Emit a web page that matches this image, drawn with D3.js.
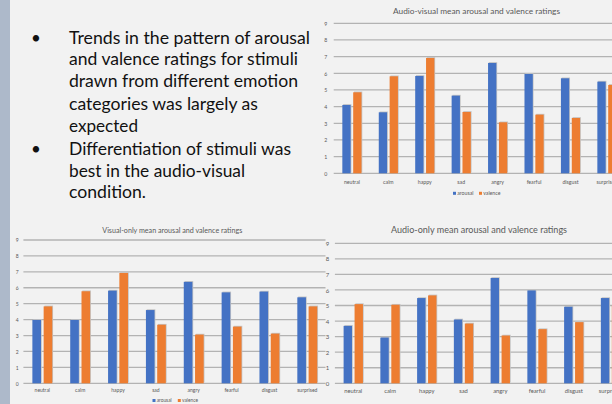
<!DOCTYPE html>
<html>
<head>
<meta charset="utf-8">
<script src="https://cdn.jsdelivr.net/npm/d3@7/dist/d3.min.js"></script>
<style>
  html, body { margin: 0; padding: 0; background: #f2f2f2; }
  svg { display: block; }
</style>
</head>
<body>
<svg id="slide" width="612" height="404"></svg>
<script>
// Emotion categories and series
const categories = ["neutral", "calm", "happy", "sad", "angry", "fearful", "disgust", "surprised"];
const seriesNames = ["arousal", "valence"];
const yTicks = [0, 1, 2, 3, 4, 5, 6, 7, 8, 9];

// Audio-visual condition
const avArousal = [4.10, 3.66, 5.84, 4.66, 6.62, 5.96, 5.70, 5.50];
const avValence = [4.86, 5.82, 6.92, 3.68, 3.06, 3.52, 3.32, 5.30];
// Visual-only condition
const voArousal = [3.98, 3.98, 5.82, 4.60, 6.37, 5.71, 5.76, 5.40];
const voValence = [4.83, 5.78, 6.93, 3.68, 3.06, 3.56, 3.12, 4.83];
// Audio-only condition
const aoArousal = [3.69, 2.94, 5.48, 4.10, 6.77, 5.97, 4.92, 5.48];
const aoValence = [5.09, 5.05, 5.65, 3.84, 3.07, 3.48, 3.93, 5.00];

const bulletLines = [
  ["Trends in the pattern of arousal", "and valence ratings for stimuli", "drawn from different emotion",
   "categories was largely as", "expected"],
  ["Differentiation of stimuli was", "best in the audio-visual", "condition."]
];

const colors = { arousal: "#4472c4", valence: "#ed7d31" };
const FONT = "Lato, 'Open Sans', sans-serif";

const svg = d3.select("#slide");

// slide background and left accent strip
svg.append("rect").attr("width", 612).attr("height", 404).attr("fill", "#f2f2f2");
svg.append("rect").attr("width", 10).attr("height", 404).attr("fill", "#adb9ca");

// bullet text
const lineBaselines = [43.5, 65, 87, 110, 131.5, 154.5, 176.5, 198];
const lineWidths = [241, 229, 229, 189, 69, 222, 176, 77];
const textG = svg.append("g").attr("font-family", FONT).attr("font-size", 17).attr("fill", "#111");
let li = 0;
bulletLines.forEach(group => {
  group.forEach((line, j) => {
    if (j === 0) {
      textG.append("text").attr("x", 31).attr("y", lineBaselines[li]).text("•");
    }
    textG.append("text")
      .attr("x", 69).attr("y", lineBaselines[li])
      .attr("textLength", lineWidths[li]).attr("lengthAdjust", "spacingAndGlyphs")
      .text(line);
    li++;
  });
});

function drawChart(cfg) {
  const g = svg.append("g").attr("font-family", FONT);
  const x = d3.scaleBand().domain(categories).range([cfg.x0, cfg.x0 + cfg.step * categories.length]);
  const y = d3.scaleLinear().domain([0, 9]).range([cfg.yBottom, cfg.yTop]);
  const S = x.bandwidth();
  const groupW = 0.526 * S;
  const sub = d3.scaleBand().domain(seriesNames).range([(S - groupW) / 2, (S + groupW) / 2]).paddingInner(0.235);

  // title
  g.append("text").attr("x", cfg.titleX).attr("y", cfg.titleY)
    .attr("text-anchor", "middle").attr("font-size", cfg.titleSize).attr("fill", "#595959")
    .attr("textLength", cfg.titleW).attr("lengthAdjust", "spacingAndGlyphs")
    .text(cfg.title);

  // gridlines
  g.append("g").selectAll("line").data(yTicks).join("line")
    .attr("x1", cfg.x0).attr("x2", cfg.gridEnd)
    .attr("y1", d => y(d)).attr("y2", d => y(d))
    .attr("stroke", "#b3b3b3").attr("stroke-width", 1.3);

  // y axis labels
  const yAxis = d3.axisLeft(y).tickValues(yTicks).tickSize(0).tickPadding(0);
  const ya = g.append("g").attr("transform", `translate(${cfg.labelX},0)`).call(yAxis);
  ya.select(".domain").remove();
  ya.selectAll("text").attr("font-family", FONT).attr("font-size", cfg.tickSize).attr("fill", "#595959")
    .attr("text-anchor", "middle").attr("dy", "0.35em");

  // bars
  const rows = categories.map((c, i) => ({ cat: c, arousal: cfg.arousal[i], valence: cfg.valence[i] }));
  const grp = g.append("g").selectAll("g").data(rows).join("g")
    .attr("transform", d => `translate(${x(d.cat)},0)`);
  const cells = d => seriesNames.map(s => ({ s, v: d[s] }));
  grp.selectAll("rect.shadow").data(cells).join("rect").attr("class", "shadow")
    .attr("x", d => sub(d.s) + 0.8).attr("y", d => y(d.v) - 0.8)
    .attr("width", sub.bandwidth()).attr("height", d => y(0) - y(d.v))
    .attr("fill", "#c4c4c4");
  grp.selectAll("rect.bar").data(cells).join("rect").attr("class", "bar")
    .attr("x", d => sub(d.s)).attr("y", d => y(d.v))
    .attr("width", sub.bandwidth()).attr("height", d => y(0) - y(d.v))
    .attr("fill", d => colors[d.s]);

  // category axis
  const xAxis = d3.axisBottom(x).tickSize(0).tickPadding(0);
  const xa = g.append("g").attr("transform", `translate(0,${cfg.catY})`).call(xAxis);
  xa.select(".domain").remove();
  xa.selectAll("text").attr("font-family", FONT).attr("font-size", cfg.catSize).attr("fill", "#595959")
    .attr("dy", "0.35em");

  // legend
  const lg = g.append("g").attr("font-size", cfg.legendSize).attr("fill", "#595959");
  seriesNames.forEach((s, i) => {
    const lx = cfg.legendX[i];
    lg.append("rect").attr("x", lx).attr("y", cfg.legendY - cfg.legendSq / 2)
      .attr("width", cfg.legendSq).attr("height", cfg.legendSq).attr("fill", colors[s]);
    lg.append("text").attr("x", lx + cfg.legendSq + 1.2).attr("y", cfg.legendY).attr("dy", "0.35em").text(s);
  });
}

drawChart({
  title: "Audio-visual mean arousal and valence ratings",
  titleX: 476.5, titleY: 13.5, titleSize: 7.5, titleW: 167,
  x0: 333.7, step: 36.43, gridEnd: 640, yTop: 23.3, yBottom: 173.3,
  labelX: 325.7, tickSize: 5.2, catY: 181.7, catSize: 5.2,
  legendX: [453, 479], legendY: 193.3, legendSq: 3, legendSize: 5.2,
  arousal: avArousal, valence: avValence
});

drawChart({
  title: "Visual-only mean arousal and valence ratings",
  titleX: 172.3, titleY: 232.5, titleSize: 7, titleW: 140,
  x0: 23.4, step: 37.85, gridEnd: 325.5, yTop: 240, yBottom: 383.3,
  labelX: 17.3, tickSize: 5, catY: 390, catSize: 5,
  legendX: [152.5, 177.8], legendY: 400.5, legendSq: 3, legendSize: 4.8,
  arousal: voArousal, valence: voValence
});

drawChart({
  title: "Audio-only mean arousal and valence ratings",
  titleX: 479, titleY: 233, titleSize: 8.5, titleW: 176,
  x0: 334.9, step: 36.75, gridEnd: 640, yTop: 243.3, yBottom: 383.3,
  labelX: 327.5, tickSize: 6, catY: 391, catSize: 5.8,
  legendX: [453, 482.5], legendY: 406.5, legendSq: 4, legendSize: 6,
  arousal: aoArousal, valence: aoValence
});
</script>
</body>
</html>
